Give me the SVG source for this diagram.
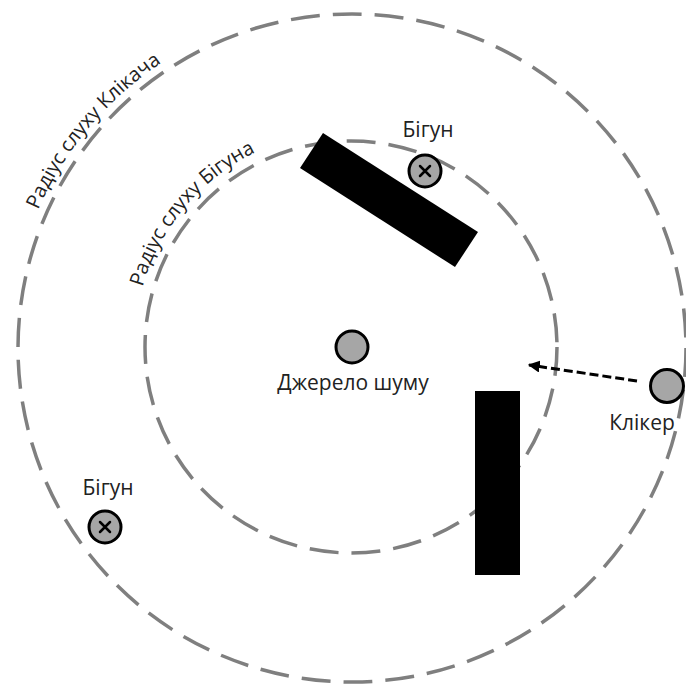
<svg xmlns="http://www.w3.org/2000/svg" width="686" height="691" viewBox="0 0 686 691">
<style>
.ring{fill:none;stroke:#7f7f7f;stroke-width:3.5;stroke-dasharray:29 13}
.dot{fill:#a6a6a6;stroke:#000;stroke-width:3}
.x{stroke:#000;stroke-width:2.5;stroke-linecap:round}
.wall{fill:#000}
text{font-family:"Open Sans","Noto Sans",sans-serif;font-size:21px;fill:#222}
.c{text-anchor:middle}
.r{font-size:20px}
</style>
<defs>
<marker id="ah" viewBox="0 0 10 10" refX="9" refY="5" markerWidth="4" markerHeight="4" orient="auto" markerUnits="strokeWidth">
<path d="M0,0 L10,5 L0,10 z" fill="#000"/>
</marker>
<path id="arcOuter" d="M29.7,465.3 A343,343 0 0 1 411.6,10.2" fill="none"/>
<path id="arcInner" d="M147.1,421.2 A217,217 0 0 1 388.7,133.3" fill="none"/>
</defs>
<rect width="686" height="691" fill="#fff"/>
<g id="ring-clicker">
<circle class="ring" cx="352" cy="348" r="334"/>
<text class="c r"><textPath href="#arcOuter" startOffset="50%">Радіус слуху Клікача</textPath></text>
</g>
<g id="ring-runner">
<circle class="ring" cx="351" cy="347" r="206"/>
<text class="c r"><textPath href="#arcInner" startOffset="50%">Радіус слуху Бігуна</textPath></text>
</g>
<g id="wall-1">
<polygon class="wall" points="323,133 478,232 455,267 300,168"/>
</g>
<g id="wall-2">
<rect class="wall" x="475" y="391" width="45" height="184"/>
</g>
<g id="noise">
<circle class="dot" cx="352" cy="347" r="16"/>
<text class="c" x="353" y="390">Джерело шуму</text>
</g>
<g id="runner-top">
<circle class="dot" cx="425" cy="171" r="16"/>
<path class="x" d="M420,166 L430,176 M430,166 L420,176"/>
<text class="c" x="428" y="137">Бігун</text>
</g>
<g id="runner-left">
<circle class="dot" cx="105" cy="527" r="16"/>
<path class="x" d="M100,522 L110,532 M110,522 L100,532"/>
<text class="c" x="108" y="495">Бігун</text>
</g>
<g id="clicker">
<circle class="dot" cx="667" cy="386" r="16.5"/>
<text class="c" x="642" y="430">Клікер</text>
</g>
<g id="connectors">
<line x1="637" y1="381" x2="529" y2="365" stroke="#000" stroke-width="3" stroke-dasharray="9 4" marker-end="url(#ah)"/>
</g>
</svg>
